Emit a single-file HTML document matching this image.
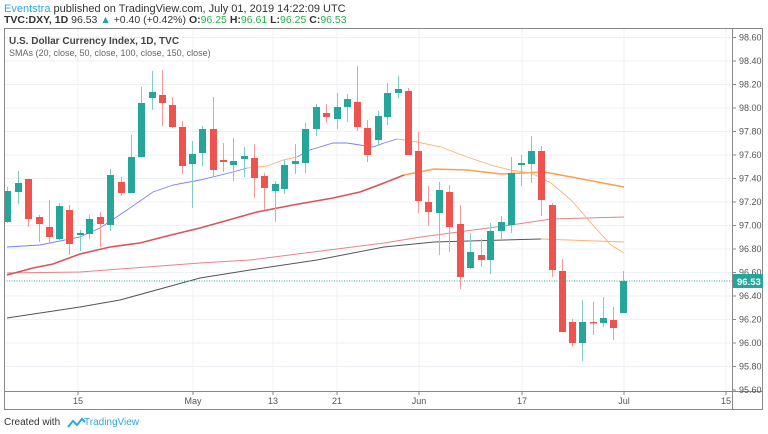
<!DOCTYPE html>
<html><head><meta charset="utf-8"><style>
body{margin:0;width:768px;height:434px;background:#fff;overflow:hidden;font-family:"Liberation Sans",sans-serif}
svg{position:absolute;left:0;top:0}
</style></head><body>
<svg id="s" width="768" height="434" xmlns="http://www.w3.org/2000/svg">
<text x="4" y="12" font-size="11" fill="#333"><tspan fill="#2ea7e0">Eventstra</tspan> published on TradingView.com, July 01, 2019 14:22:09 UTC</text>
<text x="4" y="23" font-size="10.5" fill="#333"><tspan font-weight="bold">TVC:DXY, 1D</tspan> 96.53 <tspan fill="#26a69a">▲</tspan> +0.40 (+0.42%) <tspan font-weight="bold">O:</tspan><tspan fill="#26b34a">96.25</tspan> <tspan font-weight="bold">H:</tspan><tspan fill="#26b34a">96.61</tspan> <tspan font-weight="bold">L:</tspan><tspan fill="#26b34a">96.25</tspan> <tspan font-weight="bold">C:</tspan><tspan fill="#26b34a">96.53</tspan></text>
<g id="grid"></g>
<g id="ma" fill="none"></g>
<g id="c"></g>
<line x1="4" y1="281" x2="732" y2="281" stroke="#26a69a" stroke-dasharray="1,1.5" stroke-width="1"/>
<rect x="4.5" y="28.5" width="758" height="381" fill="none" stroke="#888"/>
<line x1="732.5" y1="28" x2="732.5" y2="410" stroke="#888"/>
<line x1="4" y1="391.5" x2="763" y2="391.5" stroke="#888"/>
<g id="ax" font-size="9" fill="#555"></g>
<rect x="733" y="274" width="30" height="14" fill="#26a69a"/>
<text x="737" y="285" font-size="9.5" fill="#fff" font-weight="bold">96.53</text>
<text x="9" y="44" font-size="10" fill="#444" font-weight="bold">U.S. Dollar Currency Index, 1D, TVC</text>
<text x="9" y="56" font-size="9" fill="#666">SMAs (20, close, 50, close, 100, close, 150, close)</text>
<text x="4" y="425" font-size="10" fill="#333">Created with</text>
<path d="M68 427 l5 -6 l4 4 l5 -6 l3 3" fill="none" stroke="#2ea7e0" stroke-width="2"/>
<text x="84" y="425" font-size="10" fill="#2ea7e0">TradingView</text>
</svg>
<script>
var NS="http://www.w3.org/2000/svg";
function el(p,t,a){var e=document.createElementNS(NS,t);for(var k in a)e.setAttribute(k,a[k]);document.getElementById(p).appendChild(e);return e;}
for(var i=0;i<=15;i++){var p=98.6-i*0.2,y=249+(96.8-p)*117.5;
 if(i<15) el('grid','line',{x1:4,y1:y,x2:732,y2:y,stroke:'#eef1f5'});
 el('ax','line',{x1:732,y1:y,x2:736,y2:y,stroke:'#888'});
 var t=el('ax','text',{x:739,y:y+3});t.textContent=p.toFixed(2);}
var xs=[[78,'15'],[193,'May'],[273,'13'],[337,'21'],[419,'Jun'],[522,'17'],[624,'Jul'],[726,'15']];
xs.forEach(function(a){el('grid','line',{x1:a[0],y1:28,x2:a[0],y2:391,stroke:'#eef1f5'});
 el('ax','line',{x1:a[0],y1:391,x2:a[0],y2:395,stroke:'#888'});
 var t=el('ax','text',{x:a[0],y:404,'text-anchor':'middle'});t.textContent=a[1];});
function pl(pts,col,w){el('ma','polyline',{points:pts.map(function(p){return p.join(',')}).join(' '),stroke:col,'stroke-width':w});}
pl([[7,318],[80,307],[120,300],[200,278],[250,270],[317,260],[384,247],[434,242],[541,239]],'#555',1);
pl([[541,239],[624,242]],'#ffb074',1);
pl([[7,273],[80,272],[200,263],[250,260],[384,243],[421,237],[511,225],[551,219],[624,217]],'#e8828a',1);
pl([[7,275],[33,268],[53,264],[80,254],[110,247],[140,243],[167,236],[200,228],[257,212],[293,205],[333,198],[360,192],[384,183],[404,175]],'#d9535b',1.6);
pl([[404,175],[434,169],[467,170],[501,174],[544,172],[577,178],[624,187]],'#ff9f4a',1.6);
pl([[7,247],[40,245],[80,237],[100,228],[127,210],[153,192],[173,185],[200,180],[233,172],[247,168]],'#7a7cff',0.9);
pl([[247,168],[267,166],[283,160],[297,157]],'#ffb074',0.9);
pl([[297,157],[310,150],[333,143],[347,143],[360,145],[373,147],[384,143],[397,139]],'#7a7cff',0.9);
pl([[397,139],[417,142],[441,147],[467,157],[494,166],[511,170],[531,173],[551,183],[571,200],[591,223],[611,245],[624,253]],'#ffb074',0.9);
var C=[[7,1,191,222,187,223],[18,1,183,192,171,204],[28,0,179,219,179,227],[39,0,217,224,215,242],[49,0,227,237,200,243],[59,1,206,239,203,240],[69,0,210,244,205,255],[80,1,233,235,230,251],[89,1,219,234,215,239],[100,0,217,224,212,247],[110,1,175,225,169,231],[121,0,182,193,177,196],[131,1,157,193,135,193],[141,1,103,157,87,157],[152,1,92,98,71,110],[162,0,95,103,70,126],[172,0,105,127,97,128],[182,0,127,166,121,174],[192,1,154,164,141,208],[202,1,129,153,126,166],[213,0,129,170,97,177],[223,0,160,162,143,172],[233,1,161,165,138,181],[244,1,156,159,147,177],[254,0,158,178,144,198],[264,0,176,188,173,210],[275,1,184,191,181,222],[284,1,165,189,160,194],[295,1,161,164,144,174],[305,1,129,163,123,173],[316,1,107,129,104,136],[326,0,113,117,104,123],[337,1,107,119,93,129],[347,1,99,107,94,122],[357,0,102,127,66,131],[367,0,128,155,120,162],[378,1,116,140,111,145],[387,1,93,117,83,125],[398,1,89,93,76,98],[408,0,91,155,88,155],[418,0,151,201,132,213],[428,0,202,212,186,226],[439,1,190,213,182,255],[449,0,192,227,185,252],[460,0,224,277,205,289],[470,1,252,268,233,269],[481,0,255,260,239,267],[490,1,231,260,223,274],[501,1,222,231,216,240],[511,1,173,225,157,233],[521,1,163,165,155,186],[531,1,151,164,136,183],[541,0,151,200,146,216],[552,0,205,270,203,277],[562,0,271,332,259,332],[572,0,322,343,319,347],[582,1,322,343,300,361],[593,0,322,323,302,335],[603,1,318,323,297,327],[613,0,320,328,307,340],[623,1,281,313,271,313]];
C.forEach(function(c){var col=c[1]?'#26a69a':'#ef5350',wc=c[1]?'#7fcdc4':'#f49a98';
 el('c','line',{x1:c[0]+0.5,y1:c[4],x2:c[0]+0.5,y2:c[5],stroke:wc});
 el('c','rect',{x:c[0]-3,y:c[2],width:7,height:Math.max(1.5,c[3]-c[2]),fill:col});});
</script>
</body></html>
